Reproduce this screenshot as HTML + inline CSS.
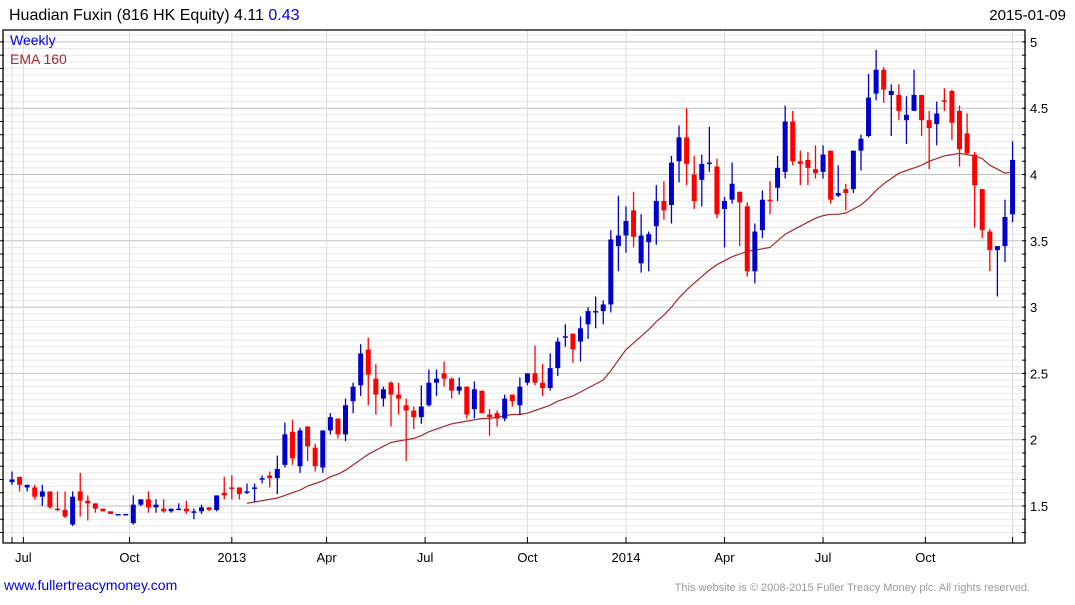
<!DOCTYPE html>
<html><head><meta charset="utf-8"><style>
body{margin:0;background:#fff;width:1075px;height:600px;overflow:hidden;font-family:"Liberation Sans",Arial,sans-serif}
svg text{font-family:"Liberation Sans",Arial,sans-serif}
</style></head><body>
<svg id="chart" width="1075" height="600" xmlns="http://www.w3.org/2000/svg">
<text x="9" y="20" font-size="16" fill="#000">Huadian Fuxin (816 HK Equity) 4.11 <tspan fill="#0000dd">0.43</tspan></text>
<text x="1066" y="20" font-size="15" fill="#000" text-anchor="end">2015-01-09</text>
<g id="grid"></g>
<g id="ema"></g>
<g id="candles"></g>
<g id="axes"></g>
<text x="10" y="45" font-size="14" fill="#0000dd">Weekly</text>
<text x="10" y="64" font-size="14" fill="#a52a2a">EMA 160</text>
<text x="4" y="590" font-size="14" fill="#0000dd">www.fullertreacymoney.com</text>
<text x="1030" y="591" font-size="11" fill="#999" text-anchor="end">This website is © 2008-2015 Fuller Treacy Money plc. All rights reserved.</text>
</svg>
<script>
const opens=[1.68,1.72,1.64,1.64,1.57,1.61,1.48,1.47,1.36,1.61,1.54,1.52,1.48,1.46,1.44,1.44,1.37,1.51,1.55,1.49,1.48,1.46,1.47,1.48,1.45,1.46,1.49,1.47,1.60,1.64,1.64,1.60,1.63,1.70,1.73,1.71,1.81,2.06,1.80,2.10,1.94,1.79,2.07,2.16,2.04,2.29,2.41,2.68,2.46,2.31,2.43,2.34,2.26,2.22,2.17,2.26,2.43,2.50,2.46,2.37,2.40,2.23,2.37,2.19,2.20,2.16,2.34,2.26,2.43,2.50,2.43,2.39,2.54,2.77,2.80,2.74,2.87,2.96,2.97,3.02,3.46,3.54,3.73,3.33,3.49,3.61,3.80,3.77,4.10,4.28,4.00,3.96,4.08,4.06,3.74,3.81,3.87,3.76,3.27,3.58,3.81,3.90,4.02,4.40,4.10,4.11,4.04,4.02,4.18,3.84,3.89,3.89,4.18,4.29,4.61,4.79,4.60,4.60,4.41,4.48,4.60,4.41,4.38,4.56,4.63,4.48,4.31,4.15,3.89,3.57,3.43,3.46,3.70];
const highs=[1.76,1.72,1.66,1.66,1.66,1.61,1.61,1.61,1.61,1.75,1.58,1.52,1.48,1.46,1.44,1.44,1.58,1.55,1.61,1.55,1.55,1.48,1.52,1.54,1.48,1.51,1.49,1.58,1.72,1.73,1.64,1.67,1.67,1.73,1.76,1.88,2.13,2.15,2.09,2.10,1.97,2.07,2.20,2.16,2.31,2.43,2.72,2.77,2.57,2.40,2.44,2.43,2.31,2.25,2.41,2.53,2.53,2.59,2.47,2.47,2.40,2.44,2.37,2.23,2.22,2.34,2.34,2.47,2.50,2.71,2.57,2.65,2.77,2.87,2.80,2.93,3.00,3.08,3.05,3.58,3.84,3.76,3.87,3.70,3.57,3.92,3.95,4.14,4.37,4.50,4.14,4.15,4.36,4.12,3.83,4.09,3.87,3.79,3.63,3.88,3.95,4.14,4.52,4.48,4.18,4.17,4.22,4.22,4.18,4.07,3.93,4.18,4.30,4.76,4.94,4.81,4.68,4.68,4.59,4.79,4.60,4.48,4.55,4.65,4.64,4.52,4.46,4.17,3.89,3.59,3.46,3.81,4.25];
const lows=[1.66,1.61,1.61,1.55,1.50,1.48,1.46,1.41,1.35,1.42,1.39,1.45,1.46,1.44,1.44,1.44,1.36,1.50,1.45,1.45,1.45,1.45,1.47,1.44,1.40,1.44,1.46,1.46,1.55,1.55,1.55,1.59,1.53,1.67,1.64,1.59,1.79,1.81,1.75,1.84,1.76,1.75,2.04,2.01,1.99,2.20,2.33,2.26,2.19,2.25,2.10,2.19,1.84,2.08,2.12,2.25,2.33,2.40,2.31,2.34,2.16,2.16,2.20,2.03,2.10,2.14,2.25,2.19,2.41,2.41,2.33,2.37,2.48,2.70,2.58,2.59,2.76,2.84,2.87,2.96,3.27,3.41,3.45,3.26,3.27,3.47,3.66,3.63,3.94,3.92,3.74,3.76,4.02,3.67,3.45,3.78,3.46,3.23,3.18,3.52,3.70,3.80,3.97,4.07,3.92,3.92,3.97,3.97,3.78,3.83,3.73,3.86,4.03,4.28,4.56,4.54,4.29,4.41,4.23,4.48,4.29,4.04,4.22,4.48,4.26,4.06,4.15,3.60,3.52,3.27,3.08,3.34,3.64];
const closes=[1.70,1.66,1.66,1.57,1.61,1.49,1.47,1.42,1.57,1.54,1.52,1.48,1.46,1.44,1.44,1.44,1.51,1.55,1.49,1.51,1.46,1.48,1.48,1.46,1.46,1.49,1.47,1.58,1.58,1.63,1.59,1.61,1.64,1.71,1.71,1.78,2.04,1.86,2.07,1.95,1.80,2.07,2.17,2.04,2.26,2.40,2.65,2.49,2.34,2.38,2.34,2.31,2.22,2.17,2.25,2.43,2.46,2.46,2.37,2.40,2.19,2.38,2.20,2.17,2.16,2.31,2.29,2.40,2.50,2.43,2.39,2.54,2.74,2.78,2.68,2.84,2.97,2.97,3.02,3.51,3.54,3.65,3.53,3.54,3.55,3.80,3.73,4.09,4.28,4.08,3.80,4.08,4.09,3.70,3.80,3.93,3.79,3.27,3.57,3.81,3.80,4.05,4.40,4.10,4.08,4.05,4.01,4.15,3.81,3.86,3.86,4.18,4.27,4.58,4.79,4.64,4.63,4.48,4.45,4.60,4.41,4.35,4.46,4.55,4.39,4.19,4.16,3.92,3.58,3.43,3.46,3.68,4.11];
const emaStart=32;
const ema160=[1.52,1.53,1.54,1.55,1.56,1.58,1.60,1.62,1.65,1.67,1.69,1.72,1.74,1.77,1.81,1.85,1.89,1.92,1.95,1.98,1.99,2.00,2.01,2.03,2.06,2.08,2.10,2.12,2.13,2.14,2.15,2.16,2.16,2.17,2.18,2.19,2.19,2.20,2.22,2.24,2.26,2.29,2.31,2.33,2.36,2.39,2.42,2.45,2.52,2.60,2.68,2.73,2.78,2.83,2.89,2.94,3.00,3.07,3.13,3.18,3.23,3.28,3.32,3.35,3.38,3.40,3.42,3.43,3.44,3.45,3.50,3.55,3.58,3.61,3.64,3.67,3.69,3.70,3.70,3.71,3.74,3.77,3.82,3.88,3.93,3.97,4.01,4.03,4.05,4.07,4.10,4.12,4.14,4.15,4.16,4.15,4.14,4.12,4.07,4.04,4.01,4.02];
const yTicks=[1.5,2,2.5,3,3.5,4,4.5,5];
const xLabels=["Jul","Oct","2013","Apr","Jul","Oct","2014","Apr","Jul","Oct"];
const xLabelWeeks=[1.5,15.5,29,41.5,54.5,68,81,94,107,120.5];

const NS="http://www.w3.org/2000/svg";
const L=3,R=1025,T=30,B=543;
function yS(p){return 506-(p-1.5)*132.6;}
function xS(i){return 12+i*7.58;}
function mk(parent,tag,attrs){const e=document.createElementNS(NS,tag);for(const k in attrs)e.setAttribute(k,attrs[k]);parent.appendChild(e);return e;}
const grid=document.getElementById('grid'),axes=document.getElementById('axes');
mk(grid,'rect',{x:L,y:T,width:R-L,height:B-T,fill:'#fff'});
for(let k=26;k<=103;k++){const v=k*0.05;const y=yS(v);if(y<T||y>B)continue;
 const major=k%10===0;
 const ln=mk(grid,'line',{x1:L,x2:R,y1:y,y2:y,stroke:major?'#c0c0c0':'#e8e8e8','stroke-width':1});
 
 
 if(k%2===0){
 const tk=mk(axes,'line',{x1:R-3,x2:R+1,y1:y,y2:y,stroke:'#000'});
 
 
 const tk2=mk(axes,'line',{x1:L-3,x2:L+1,y1:y,y2:y,stroke:'#000'});
 
 }
}
const vx=[12];xLabelWeeks.forEach(w=>vx.push(xS(w)));vx.push(xS(132));
vx.forEach(x=>{const l=mk(grid,'line',{x1:x,x2:x,y1:T,y2:B,stroke:'#dcdcdc'});
 
 
 const t=mk(axes,'line',{x1:x,x2:x,y1:B-6,y2:B,stroke:'#000'});
 
 });
yTicks.forEach(v=>{const t=mk(axes,'text',{x:R+5,y:yS(v)+5,'font-size':13,fill:'#000'});t.textContent=String(v);
 
 });
xLabels.forEach((s,i)=>{const t=mk(axes,'text',{x:xS(xLabelWeeks[i]),y:562,'font-size':13,fill:'#000','text-anchor':'middle'});t.textContent=s;
 
 });
const fr=mk(axes,'path',{d:`M${L} ${T}H${R}V${B}H${L}Z`,fill:'none',stroke:'#000','stroke-width':1.3});


// EMA
let d='';ema160.forEach((v,i)=>{d+=(i?'L':'M')+xS(emaStart-1+i).toFixed(1)+' '+yS(v).toFixed(1);});
const ep=mk(document.getElementById('ema'),'path',{d:d,fill:'none',stroke:'#a52a2a','stroke-width':1.2});


// candles
const cg=document.getElementById('candles');
opens.forEach((o,i)=>{const c=closes[i],x=xS(i),up=c>=o,col=up?'#0000cc':'#ff0000';
 const g=mk(cg,'g',{});
 
 
 mk(g,'line',{x1:x,x2:x,y1:yS(highs[i]),y2:yS(lows[i]),stroke:col,'stroke-width':1.3});
 const top=yS(Math.max(o,c)),bot=yS(Math.min(o,c));
 mk(g,'rect',{x:x-2.5,y:top,width:5,height:Math.max(bot-top,1.5),fill:col});
});
</script>
</body></html>
